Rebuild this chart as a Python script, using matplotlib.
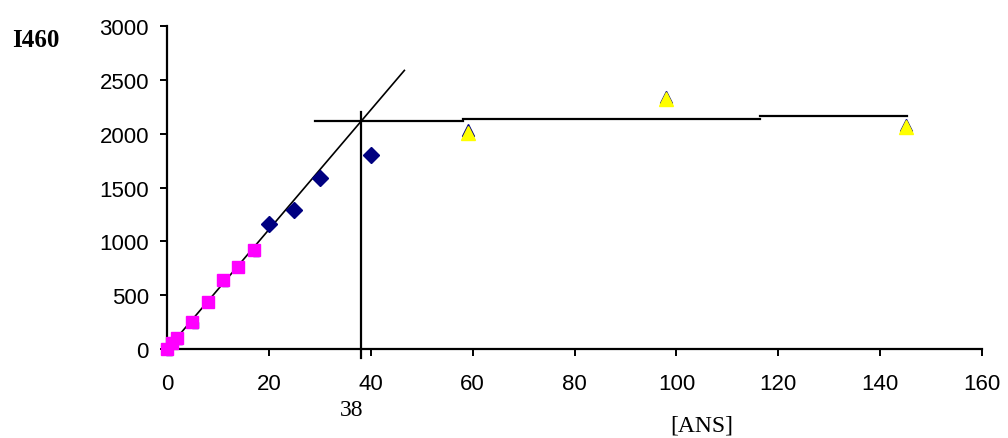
import matplotlib.pyplot as plt

# data
mag_x = [0, 1, 2, 5, 8, 11, 14, 17]
mag_y = [0, 60, 100, 250, 440, 640, 765, 920]
blue_x = [20, 25, 30, 40]
blue_y = [1165, 1290, 1590, 1800]
yel_x = [59, 98, 145]
yel_y = [2010, 2320, 2060]

fit_x = [-0.5, 46.6]
fit_y = [-30, 2590]
plat_x = [[29, 58.2], [58.2, 116.4], [116.4, 145.2]]
plat_y = [[2124, 2124], [2140, 2140], [2164, 2164]]
cross_x = 38
cross_y = [-85, 2200]

fig = plt.figure(figsize=(10.08, 4.39), dpi=100)
ax = fig.add_axes([0.1657, 0.2027, 0.8085, 0.7351])

ax.plot(fit_x, fit_y, color='black', linewidth=1.2, clip_on=False, zorder=2)
for xs, ys in zip(plat_x, plat_y):
    ax.plot(xs, ys, color='black', linewidth=1.6, zorder=2)
ax.plot([cross_x, cross_x], cross_y, color='black', linewidth=1.6, clip_on=False, zorder=2)

# small navy shadow behind each marker, like the original
ax.plot([x + 0.4 for x in mag_x], [y - 25 for y in mag_y], 's', color='#000080',
        markersize=5, linestyle='none', clip_on=False, zorder=3)
ax.plot(mag_x, mag_y, 's', color='#FF00FF', markersize=8.5, linestyle='none', clip_on=False, zorder=4)
ax.plot(blue_x, blue_y, 'D', color='#000080', markersize=8, linestyle='none', zorder=4)
ax.plot(yel_x, [y + 25 for y in yel_y], '^', color='#000080',
        markersize=8, linestyle='none', zorder=3)
ax.plot(yel_x, yel_y, '^', color='#FFFF00', markersize=10, linestyle='none', zorder=4)

ax.set_xlim(0, 160)
ax.set_ylim(0, 3000)
ax.set_xticks(range(0, 161, 20))
ax.set_yticks(range(0, 3001, 500))
for s in ['top', 'right']:
    ax.spines[s].set_visible(False)
for s in ['left', 'bottom']:
    ax.spines[s].set_linewidth(1.6)
ax.tick_params(direction='out', length=5, width=1.4, labelsize=16,
               labelfontfamily='Liberation Sans')
ax.tick_params(axis='x', pad=12)
ax.tick_params(axis='y', pad=8)

fig.text(0.012, 0.894, 'I460', fontsize=18, fontweight='bold', family='Liberation Serif')
fig.text(0.337, 0.052, '38', fontsize=17, family='Liberation Serif')
fig.text(0.665, 0.018, '[ANS]', fontsize=17, family='Liberation Serif')

plt.savefig('out.png', dpi=100)
